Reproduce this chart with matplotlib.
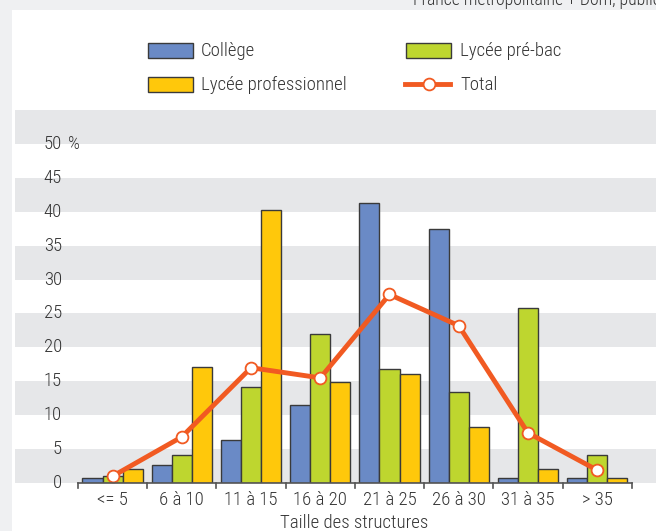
import matplotlib
matplotlib.use("Agg")
import matplotlib.pyplot as plt
from matplotlib.patches import Rectangle
from matplotlib.lines import Line2D

categories = ["<= 5", "6 à 10", "11 à 15", "16 à 20", "21 à 25", "26 à 30", "31 à 35", "> 35"]
college = [0.8, 2.7, 6.4, 11.5, 41.3, 37.4, 0.8, 0.8]
lycee_prebac = [1.1, 4.2, 14.2, 22.0, 16.8, 13.4, 25.8, 4.2]
lycee_pro = [2.0, 17.1, 40.2, 14.9, 16.1, 8.2, 2.0, 0.8]
total = [1.0, 6.8, 17.0, 15.5, 27.8, 23.2, 7.4, 1.9]
y_ticks = [0, 5, 10, 15, 20, 25, 30, 35, 40, 45, 50]

plt.rcParams["font.family"] = ["Roboto Condensed", "DejaVu Sans"]
plt.rcParams["font.weight"] = "light"
FS = 13.5
TXT = "#333333"

W, H = 656, 531
fig = plt.figure(figsize=(W / 100, H / 100), dpi=100)
fig.patch.set_facecolor("#eff0f2")


def fx(px):
    return px / W


def fy(py):
    return 1 - py / H


# white panel
fig.add_artist(Rectangle((fx(12), 0), 1, fy(10), transform=fig.transFigure,
                         facecolor="white", edgecolor="none", zorder=0))
fig.text(fx(413), fy(5), "France métropolitaine + Dom, public", fontsize=12.8,
         color=TXT, ha="left", va="baseline")

ax = fig.add_axes([fx(15), fy(483), 1 - fx(15), (483 - 110) / H])
ax.set_facecolor("white")
ax.set_xlim(-1.41, 7.85)
ax.set_ylim(0, 55)
for s in ax.spines.values():
    s.set_visible(False)
ax.set_xticks([])
ax.set_yticks([])

# alternating horizontal bands
for lo in range(0, 55, 10):
    ax.axhspan(lo, lo + 5, color="#e6e7e9", lw=0, zorder=0)
ax.axhspan(50, 55, color="#e6e7e9", lw=0, zorder=0)

colors = ["#6a8ac6", "#bed62f", "#ffc80b"]
bw = 0.29
xs = list(range(len(categories)))
for k, (vals, c) in enumerate(zip([college, lycee_prebac, lycee_pro], colors)):
    ax.bar([x + (k - 1) * bw for x in xs], vals, width=bw, color=c,
           edgecolor="#3a3a3a", linewidth=1.0, zorder=2)

ax.plot(xs, total, color="#f15a22", lw=3.5, zorder=3, marker="o", ms=8.5,
        mfc="white", mec="#f15a22", mew=1.3, solid_capstyle="butt")

# baseline and ticks at category boundaries
ax.plot([-0.5, 7.5], [0, 0], color="#555555", lw=1.2, zorder=4, clip_on=False)
for b in range(9):
    ax.plot([b - 0.5, b - 0.5], [0, -0.75], color="#555555", lw=1.2,
            zorder=4, clip_on=False)
for x, lab in zip(xs, categories):
    ax.text(x, -2.55, lab, ha="center", va="center", fontsize=FS, color=TXT)
fig.text(fx(354), fy(523), "Taille des structures", ha="center", va="center",
         fontsize=FS, color=TXT)

# y labels drawn inside the plot
xl = -1.41 + (62 - 15) / 69.2
for v in y_ticks:
    ax.text(xl, v, str(v), ha="right", va="center", fontsize=FS, color=TXT)
ax.text(xl + 6 / 69.2, 50, "%", ha="left", va="center", fontsize=FS, color=TXT)


# legend
def patch(x, y, c):
    fig.add_artist(Rectangle((fx(x), fy(y + 15)), 45 / W, 15 / H,
                             transform=fig.transFigure, facecolor=c,
                             edgecolor="#3a3a3a", lw=1.0))


patch(148, 43, colors[0])
fig.text(fx(201), fy(51), "Collège", fontsize=FS, color=TXT, va="center")
patch(406, 43, colors[1])
fig.text(fx(460), fy(51), "Lycée pré-bac", fontsize=FS, color=TXT, va="center")
patch(148, 77, colors[2])
fig.text(fx(201), fy(85), "Lycée professionnel", fontsize=FS, color=TXT, va="center")
fig.add_artist(Line2D([fx(405), fx(450)], [fy(84), fy(84)],
                      transform=fig.transFigure, color="#f15a22", lw=3.5))
fig.add_artist(Line2D([fx(429)], [fy(84)], transform=fig.transFigure,
                      marker="o", ms=8.5, mfc="white", mec="#f15a22", mew=1.3))
fig.text(fx(460), fy(85), "Total", fontsize=FS, color=TXT, va="center")

fig.savefig("out.png", dpi=100, facecolor=fig.get_facecolor())
